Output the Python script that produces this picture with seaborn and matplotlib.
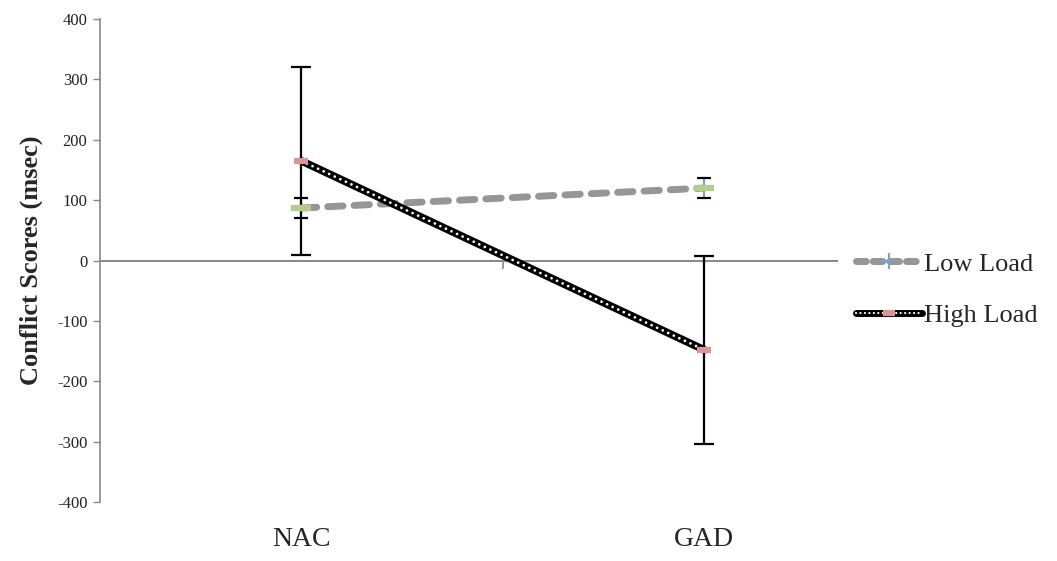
import numpy as np
import pandas as pd
import matplotlib
matplotlib.use("Agg")
import matplotlib.pyplot as plt
import seaborn as sns
from matplotlib.lines import Line2D

# data
groups = ["NAC", "GAD"]
low_load = [87, 120]
low_err = [17, 17]
high_load = [165, -148]
high_err = [156, 156]

df = pd.DataFrame({
    "Group": groups * 2,
    "Score": low_load + high_load,
    "Load": ["Low Load"] * 2 + ["High Load"] * 2,
})
df["x"] = df["Group"].map({g: i for i, g in enumerate(groups)})

sns.set_style("white")
plt.rcParams["font.family"] = ["Liberation Serif", "DejaVu Serif"]
plt.rcParams["axes.unicode_minus"] = False

grey = "#969696"
axis_grey = "#878787"
green = "#B3CE8C"
pink = "#D99694"
blue = "#809EC8"

fig = plt.figure(figsize=(10.57, 5.61), dpi=100)
ax = fig.add_axes([0.0946, 0.1052, 0.6974, 0.8608])

low = df[df["Load"] == "Low Load"]
high = df[df["Load"] == "High Load"]

# error bars
eb1 = ax.errorbar(low["x"], low["Score"], yerr=low_err, fmt="none", ecolor=blue,
                  elinewidth=1.6, capsize=5, capthick=1.6, zorder=2)
for c in eb1[1]:
    c.set_markeredgecolor("black")
    c.set_color("black")
ax.errorbar(high["x"], high["Score"], yerr=high_err, fmt="none", ecolor="black",
            elinewidth=1.6, capsize=7, capthick=1.6, zorder=2)

# low load: grey dashed line
sns.lineplot(data=low, x="x", y="Score", ax=ax, color=grey, lw=5,
             dashes=False, zorder=3, legend=False)
ax.lines[-1].set_dashes((2.2, 1.6))
ax.lines[-1].set_dash_capstyle("round")

# high load: black line with white dots
sns.lineplot(data=high, x="x", y="Score", ax=ax, color="black", lw=5.5,
             zorder=4, legend=False)
sns.lineplot(data=high, x="x", y="Score", ax=ax, color="white", lw=2,
             zorder=5, legend=False)
ax.lines[-1].set_dashes((0.01, 2.2))
ax.lines[-1].set_dash_capstyle("round")

# markers
ax.plot(low["x"], low["Score"], ls="none", marker="_", ms=15, mew=4.5,
        color=green, zorder=6)
ax.plot(high["x"], high["Score"], ls="none", marker="_", ms=10, mew=4.5,
        color=pink, zorder=6)

ax.set_xlim(-0.5, 1.33)
ax.set_ylim(-400, 400)
ax.set_yticks(np.arange(-400, 401, 100))
ax.tick_params(axis="y", direction="out", length=5, width=1, color=axis_grey,
               labelsize=12, labelcolor="#222222", pad=4, left=True)
ax.set_xticks(range(len(groups)))
ax.set_xticklabels(groups, fontsize=20)
ax.tick_params(axis="x", length=0, pad=18)
ax.set_xlabel("")
ax.set_ylabel("Conflict Scores (msec)", fontsize=19, fontweight="bold", labelpad=10)

for s in ["top", "right", "bottom"]:
    ax.spines[s].set_visible(False)
ax.spines["left"].set_color(axis_grey)
ax.spines["left"].set_linewidth(1.2)

# zero line as category axis, with a tick at the category boundary
sec = ax.secondary_xaxis(0.5)
sec.set_xticks([0.5])
sec.set_xticklabels([])
sec.tick_params(axis="x", which="major", bottom=True, top=False, direction="out",
                length=6, color=axis_grey, width=1.2)
for sp in sec.spines.values():
    sp.set_color(axis_grey)
    sp.set_linewidth(1.4)

# legend
h_low = (Line2D([], [], color=grey, lw=5, dashes=(1.4, 1.0), dash_capstyle="round"),
         Line2D([], [], ls="none", marker="+", ms=12, mew=1.5, color=blue))
h_high_bg = Line2D([], [], color="black", lw=5)
h_high_dot = Line2D([], [], color="white", lw=1.6, dashes=(0.01, 2.0), dash_capstyle="round")
h_high_m = Line2D([], [], ls="none", marker="_", ms=9, mew=4.5, color=pink)
fig.legend([h_low, (h_high_bg, h_high_dot, h_high_m)], ["Low Load", "High Load"],
           loc="upper left", bbox_to_anchor=(0.797, 0.574), frameon=False,
           fontsize=19, handlelength=2.5, handletextpad=0.1, labelspacing=1.05,
           borderpad=0)

fig.savefig("out.png", dpi=100)
